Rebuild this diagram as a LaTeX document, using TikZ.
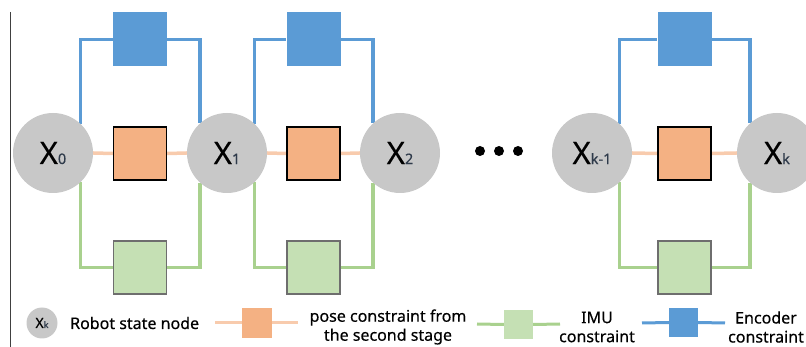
\documentclass[tikz,border=0pt]{standalone}
\usepackage{fontspec}
\setmainfont{Noto Sans}[UprightFeatures={FakeBold=0.35}]
\usetikzlibrary{backgrounds}
\definecolor{blueC}{HTML}{5B9BD5}
\definecolor{orangeF}{HTML}{F4B183}
\definecolor{orangeL}{HTML}{F8CBAD}
\definecolor{greenF}{HTML}{C5E0B4}
\definecolor{greenL}{HTML}{A9D18E}
\definecolor{circG}{HTML}{C8C8C8}
\definecolor{boxG}{HTML}{6E6E6E}
\definecolor{subC}{HTML}{2E3A4A}
\definecolor{axisG}{HTML}{404040}
\newcommand{\stlabel}[1]{{\fontsize{31}{31}\selectfont X}{\fontsize{14.5}{14.5}\selectfont\color{subC}#1}}
\begin{document}
\begin{tikzpicture}[x=1pt,y=-1pt,
  state/.style={circle,fill=circG,minimum size=80pt,inner sep=0pt},
  posebox/.style={draw=black,fill=orangeF,minimum size=53pt,inner sep=0pt,line width=1.1pt},
  encbox/.style={fill=blueC,minimum size=54pt,inner sep=0pt},
  imubox/.style={draw=boxG,fill=greenF,minimum size=53pt,inner sep=0pt,line width=1.1pt},
  encline/.style={draw=blueC,line width=3.5pt},
  imuline/.style={draw=greenL,line width=3.5pt},
  poseline/.style={draw=orangeL,line width=3.5pt},
  dotnode/.style={circle,fill=black,minimum size=10pt,inner sep=0pt},
  legtext/.style={font=\fontsize{16}{19}\selectfont,inner sep=0pt,align=center},
  legpose/.style={fill=orangeF,minimum width=30pt,minimum height=30pt,inner sep=0pt},
  legimu/.style={fill=greenF,minimum width=29pt,minimum height=29pt,inner sep=0pt},
  legenc/.style={fill=blueC,minimum width=29pt,minimum height=29pt,inner sep=0pt},
  legstate/.style={circle,fill=circG,minimum size=31pt,inner sep=0pt}
]
\useasboundingbox (0,0) rectangle (806,347);
\coordinate (axtop) at (10.5,12);
\coordinate (axbot) at (10.5,347);
\draw[axisG,line width=1pt] (axtop) -- (axbot);

% state nodes
\node[state] (X0) at (53,153) {\stlabel{0}};
\node[state] (X1) at (227,153) {\stlabel{1}};
\node[state] (X2) at (400,153) {\stlabel{2}};
\node[state] (Xk1) at (592,153) {\stlabel{k-1}};
\node[state] (Xk) at (777,153) {\stlabel{k}};

% factor boxes
\node[posebox] (o1) at (140,153.5) {};
\node[posebox] (o2) at (313.5,153.5) {};
\node[posebox] (o3) at (684.5,153.5) {};
\node[encbox] (b1) at (140,39.5) {};
\node[encbox] (b2) at (313.5,39.5) {};
\node[encbox] (b3) at (684.5,39.5) {};
\node[imubox] (g1) at (140,267.5) {};
\node[imubox] (g2) at (313.5,267.5) {};
\node[imubox] (g3) at (684.5,267.5) {};

% dots
\node[dotnode] (d1) at (480,151) {};
\node[dotnode] (d2) at (499,151) {};
\node[dotnode] (d3) at (518,151) {};

\begin{pgfonlayer}{background}
\foreach \a/\b/\o/\e/\g in {X0/X1/o1/b1/g1, X1/X2/o2/b2/g2, Xk1/Xk/o3/b3/g3}{
  \draw[poseline] (\a.east) -- (\o.west);
  \draw[poseline] (\o.east) -- (\b.west);
  \draw[encline] (\a.47.5) |- (\e.west);
  \draw[encline] (\e.east) -| (\b.132.5);
  \draw[imuline] (\a.-47.5) |- (\g.west);
  \draw[imuline] (\g.east) -| (\b.-132.5);
}
\end{pgfonlayer}

% legend
\node[legstate] (ls) at (42,323) {{\fontsize{14}{14}\selectfont X}{\fontsize{9}{9}\selectfont\color{subC}k}};
\node[legtext,anchor=west] (lst) at (70,323) {Robot state node};

\coordinate (lpa) at (215,323);
\coordinate (lpb) at (298,323);
\node[legpose] (lp) at (257,323) {};
\draw[poseline,line width=3pt] (lpa) -- (lp.west);
\draw[poseline,line width=3pt] (lp.east) -- (lpb);
\node[legtext] (lpt) at (388,327) {pose constraint from\\the second stage};

\coordinate (lia) at (477,324);
\coordinate (lib) at (560,324);
\node[legimu] (li) at (518.5,324.5) {};
\draw[imuline,line width=3pt] (lia) -- (li.west);
\draw[imuline,line width=3pt] (li.east) -- (lib);
\node[legtext] (lit) at (597,327) {IMU\\constraint};

\coordinate (lea) at (642,323);
\coordinate (leb) at (725,323);
\node[legenc] (le) at (683.5,322.5) {};
\draw[encline,line width=3pt] (lea) -- (le.west);
\draw[encline,line width=3pt] (le.east) -- (leb);
\node[legtext] (let) at (766,327) {Encoder\\constraint};
\end{tikzpicture}
\end{document}
